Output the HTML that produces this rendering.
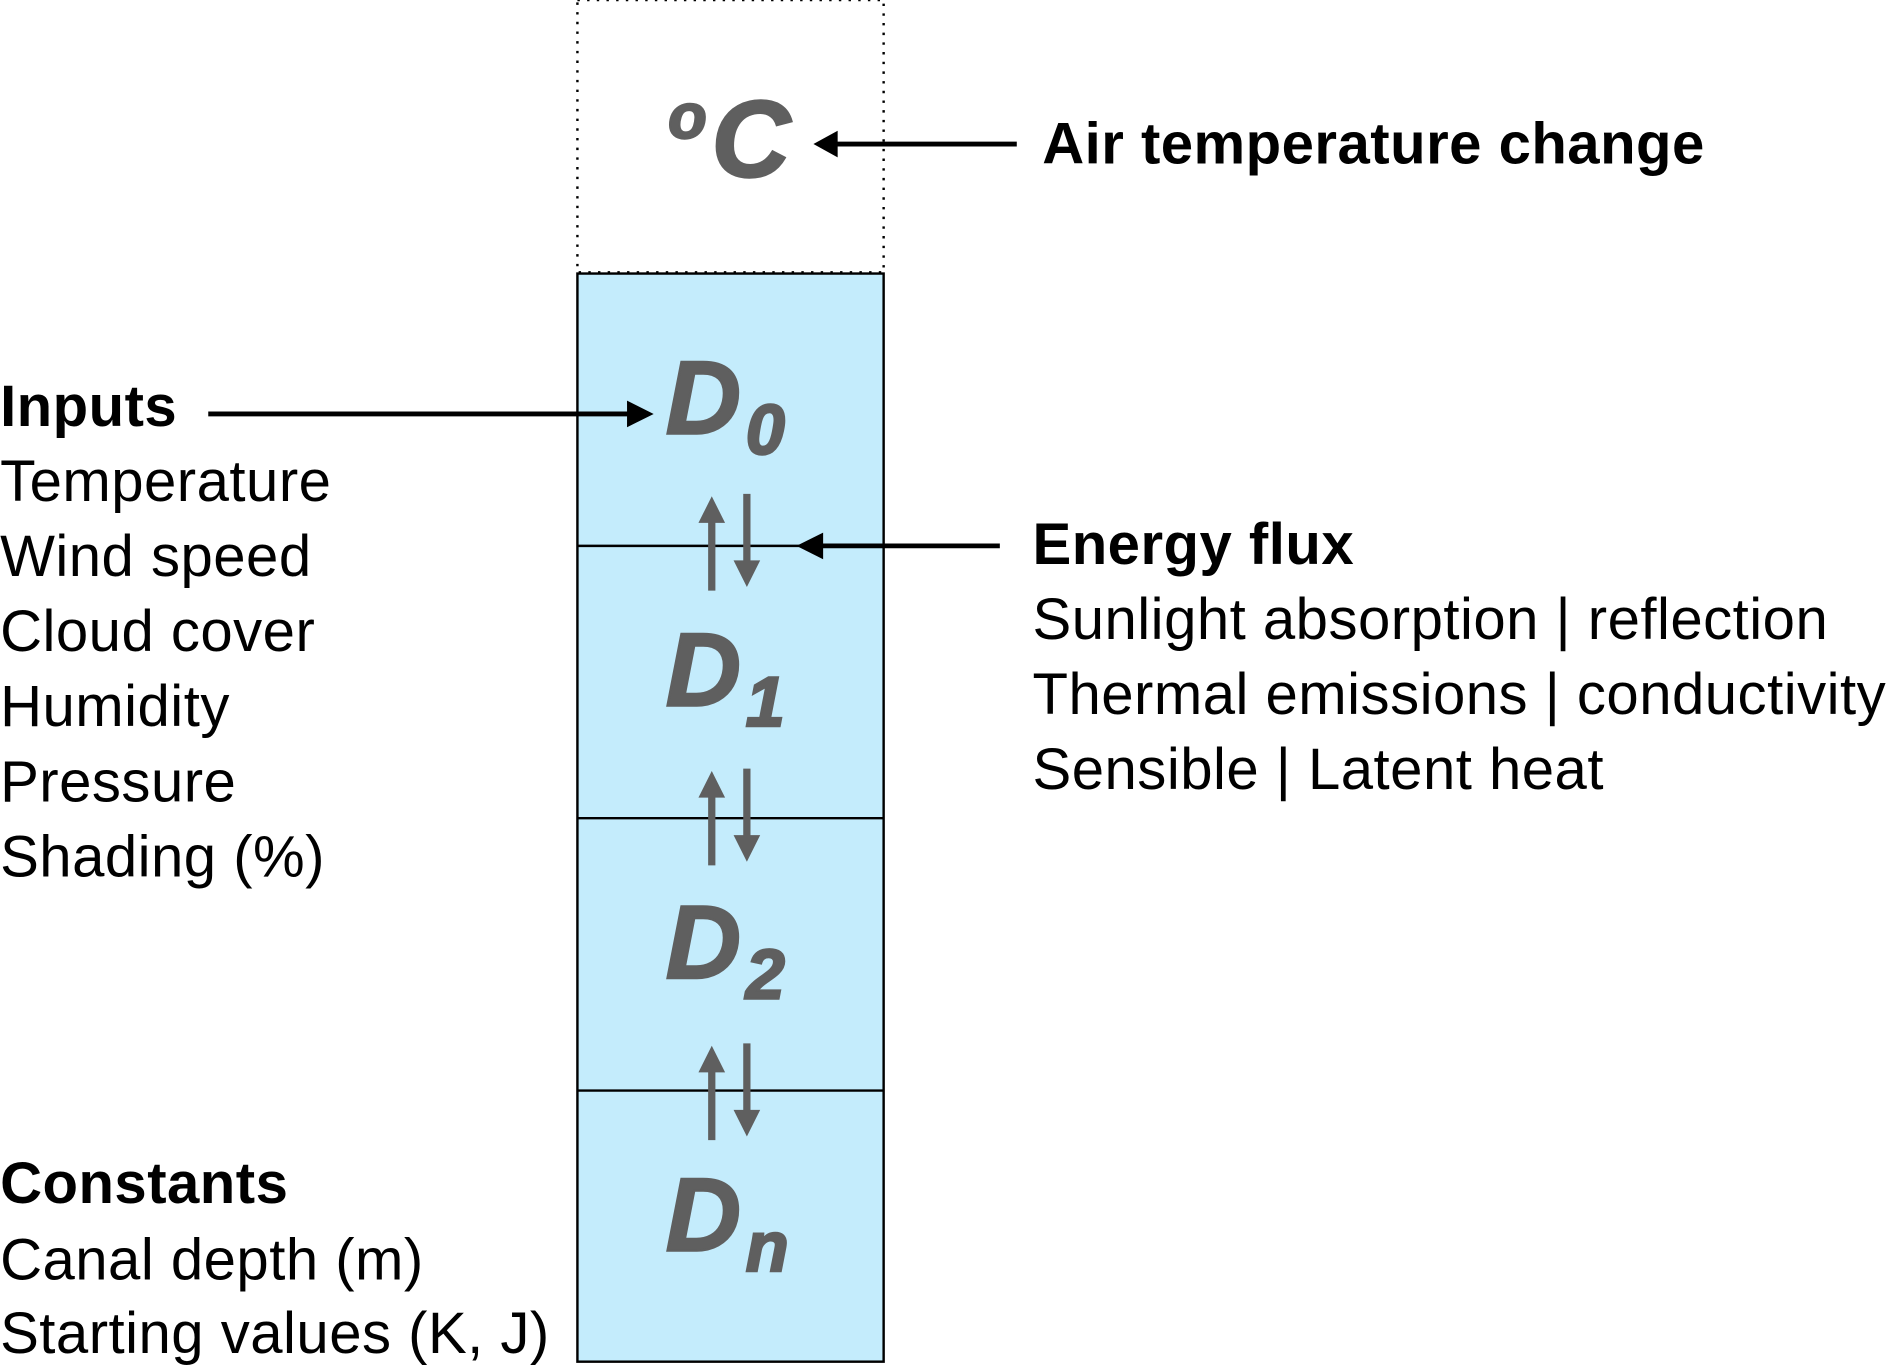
<!DOCTYPE html>
<html><head><meta charset="utf-8"><style>html,body{margin:0;padding:0;background:#fff}svg{display:block}</style></head>
<body>
<svg width="1898" height="1367" viewBox="0 0 1568 1129.4" xmlns="http://www.w3.org/2000/svg" font-family="Liberation Sans, Arial, sans-serif">
<rect x="477" y="0" width="253" height="225" fill="none" stroke="#000" stroke-width="2" stroke-dasharray="2,6"/>
<rect x="477" y="226" width="253" height="899" fill="#c4ecfc" stroke="#000" stroke-width="2"/>
<line x1="477" y1="451" x2="730" y2="451" stroke="#000" stroke-width="2"/>
<line x1="477" y1="676" x2="730" y2="676" stroke="#000" stroke-width="2"/>
<line x1="477" y1="901" x2="730" y2="901" stroke="#000" stroke-width="2"/>

<text x="552" y="146" font-size="90" font-weight="bold" font-style="italic" fill="#5f5f5f" stroke="#5f5f5f" stroke-width="2"><tspan font-size="52" dy="-32">o</tspan><tspan dy="32" dx="4">C</tspan></text>

<g fill="#5f5f5f" stroke="#5f5f5f" stroke-width="2" font-weight="bold" font-style="italic">
<text x="550" y="358" font-size="86">D<tspan font-size="58" dx="4" dy="17">0</tspan></text>
<text x="550" y="583" font-size="86">D<tspan font-size="58" dx="4" dy="17">1</tspan></text>
<text x="550" y="808" font-size="86">D<tspan font-size="58" dx="4" dy="17">2</tspan></text>
<text x="550" y="1033" font-size="86">D<tspan font-size="58" dx="4" dy="17">n</tspan></text>
</g>

<g fill="#5f5f5f" stroke="#5f5f5f" stroke-width="6">
<g><line x1="588" y1="430" x2="588" y2="488"/><path d="M577,432 L588,410 L599,432z" stroke="none"/><line x1="617" y1="408" x2="617" y2="466"/><path d="M606,463 L617,485 L628,463z" stroke="none"/></g>
<g transform="translate(0,227)"><line x1="588" y1="430" x2="588" y2="488"/><path d="M577,432 L588,410 L599,432z" stroke="none"/><line x1="617" y1="408" x2="617" y2="466"/><path d="M606,463 L617,485 L628,463z" stroke="none"/></g>
<g transform="translate(0,454)"><line x1="588" y1="430" x2="588" y2="488"/><path d="M577,432 L588,410 L599,432z" stroke="none"/><line x1="617" y1="408" x2="617" y2="466"/><path d="M606,463 L617,485 L628,463z" stroke="none"/></g>
</g>

<line x1="840" y1="119" x2="680" y2="119" stroke="#000" stroke-width="4"/>
<path d="M672,119 L692,108 L692,130z" fill="#000"/>
<line x1="172" y1="342" x2="530" y2="342" stroke="#000" stroke-width="4"/>
<path d="M540,342 L518,331 L518,353z" fill="#000"/>
<line x1="826" y1="451" x2="668" y2="451" stroke="#000" stroke-width="4"/>
<path d="M658,451 L680,440 L680,462z" fill="#000"/>

<g font-size="48" fill="#000" letter-spacing="0.4">
<text x="861" y="135" font-weight="bold">Air temperature change</text>
<text x="0" y="352" font-weight="bold">Inputs</text>
<text x="0" y="414">Temperature</text>
<text x="0" y="476">Wind speed</text>
<text x="0" y="538">Cloud cover</text>
<text x="0" y="600">Humidity</text>
<text x="0" y="662">Pressure</text>
<text x="0" y="724">Shading (%)</text>
<text x="0" y="994" font-weight="bold">Constants</text>
<text x="0" y="1057">Canal depth (m)</text>
<text x="0" y="1118">Starting values (K, J)</text>
<text x="853" y="466" font-weight="bold">Energy flux</text>
<text x="853" y="528">Sunlight absorption | reflection</text>
<text x="853" y="590">Thermal emissions | conductivity</text>
<text x="853" y="652">Sensible | Latent heat</text>
</g>
</svg>
</body></html>
